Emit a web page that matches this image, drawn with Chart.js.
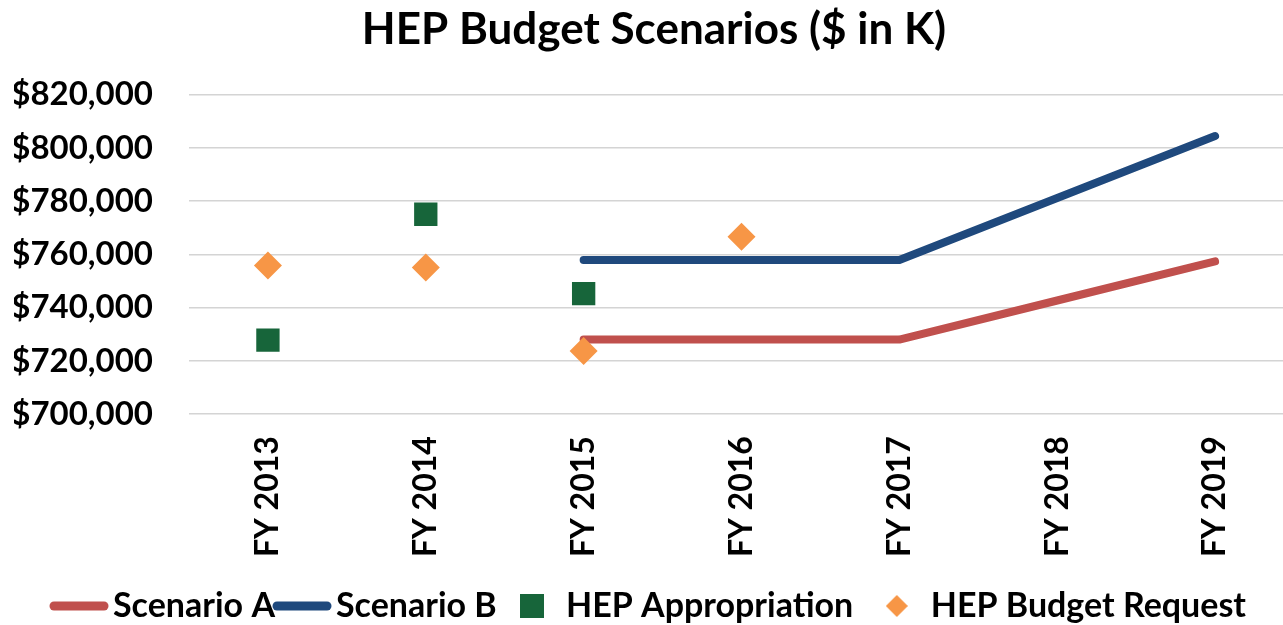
<!DOCTYPE html>
<html>
<head>
<meta charset="utf-8">
<script src="https://cdn.jsdelivr.net/npm/chart.js@4.4.1/dist/chart.umd.min.js"></script>
<style>
  html, body { margin: 0; padding: 0; background: #fff; overflow: hidden; }
  #wrap { width: 1283px; height: 625px; overflow: hidden; }
</style>
</head>
<body>
<div id="wrap"><canvas id="budgetChart" width="1318" height="633"></canvas></div>
<script>
const categories = ['FY 2013', 'FY 2014', 'FY 2015', 'FY 2016', 'FY 2017', 'FY 2018', 'FY 2019'];

const scenarioA = [null, null, 728000, 728000, 728000, 742700, 757400];
const scenarioB = [null, null, 757900, 757900, 757900, 781200, 804500];
const appropriation = [727800, 775100, 745300, null, null, null, null];
const budgetRequest = [755900, 755100, 723700, 766700, null, null, null];

const yTicks = [700000, 720000, 740000, 760000, 780000, 800000, 820000];

const RED = '#C0504D';
const BLUE = '#1F497D';
const GREEN = '#17653A';
const ORANGE = '#F79646';
const FONT = 'Lato';

// little canvases used as legend markers
function makeIcon(kind, color) {
    let c = document.createElement('canvas');
    let ctx = c.getContext('2d');
    if (kind === 'line') {
        c.width = 64; c.height = 14;
        ctx.strokeStyle = color;
        ctx.lineWidth = 9;
        ctx.lineCap = 'round';
        ctx.beginPath();
        ctx.moveTo(7, 7);
        ctx.lineTo(57, 7);
        ctx.stroke();
    } else if (kind === 'square') {
        c.width = 24; c.height = 24;
        ctx.fillStyle = color;
        ctx.fillRect(0, 0, 24, 24);
    } else {
        c.width = 22; c.height = 22;
        ctx.fillStyle = color;
        ctx.beginPath();
        ctx.moveTo(11, 0);
        ctx.lineTo(22, 11);
        ctx.lineTo(11, 22);
        ctx.lineTo(0, 11);
        ctx.closePath();
        ctx.fill();
    }
    return c;
}

const legendIcons = [
    makeIcon('line', RED),
    makeIcon('line', BLUE),
    makeIcon('square', GREEN),
    makeIcon('diamond', ORANGE)
];
// extra spacing after each legend entry
const legendGaps = [0, 1, 2, 0];

const data = {
    labels: categories,
    datasets: [{
        label: 'Scenario A',
        data: scenarioA,
        borderColor: RED,
        backgroundColor: RED,
        borderWidth: 8,
        borderCapStyle: 'round',
        borderJoinStyle: 'round',
        pointRadius: 0,
        tension: 0,
        order: 2
    }, {
        label: 'Scenario B',
        data: scenarioB,
        borderColor: BLUE,
        backgroundColor: BLUE,
        borderWidth: 8,
        borderCapStyle: 'round',
        borderJoinStyle: 'round',
        pointRadius: 0,
        tension: 0,
        order: 2
    }, {
        label: 'HEP Appropriation',
        data: appropriation,
        showLine: false,
        pointStyle: 'rect',
        pointRadius: 16.5,
        pointBackgroundColor: GREEN,
        pointBorderColor: GREEN,
        pointBorderWidth: 0,
        order: 1
    }, {
        label: 'HEP Budget Request',
        data: budgetRequest,
        showLine: false,
        pointStyle: 'rectRot',
        pointRadius: 14,
        pointBackgroundColor: ORANGE,
        pointBorderColor: ORANGE,
        pointBorderWidth: 0,
        order: 1
    }]
};

const config = {
    type: 'line',
    data: data,
    options: {
        responsive: false,
        animation: false,
        devicePixelRatio: 1,
        layout: {
            padding: { left: 14, right: 24, top: 0, bottom: 0 }
        },
        plugins: {
            title: {
                display: true,
                text: 'HEP Budget Scenarios ($ in K)',
                color: '#000',
                font: { family: FONT, size: 44, weight: 'bold' },
                padding: { top: 3, bottom: 39 }
            },
            legend: {
                position: 'bottom',
                labels: {
                    color: '#000',
                    font: { family: FONT, size: 34, weight: 'bold' },
                    usePointStyle: true,
                    pointStyleWidth: 34,
                    padding: 10,
                    generateLabels: function(chart) {
                        return chart.data.datasets.map(function(ds, i) {
                            return {
                                text: ds.label + ' '.repeat(legendGaps[i]),
                                fillStyle: 'transparent',
                                strokeStyle: 'transparent',
                                lineWidth: 0,
                                pointStyle: legendIcons[i],
                                hidden: false,
                                datasetIndex: i
                            };
                        });
                    }
                }
            },
            tooltip: { enabled: false }
        },
        scales: {
            x: {
                offset: true,
                grid: { display: false, drawTicks: false },
                border: { display: false },
                ticks: {
                    color: '#000',
                    font: { family: FONT, size: 32, weight: 'bold' },
                    minRotation: 90,
                    maxRotation: 90,
                    autoSkip: false,
                    padding: 22
                }
            },
            y: {
                min: 700000,
                max: 820000,
                afterBuildTicks: function(axis) {
                    axis.ticks = yTicks.map(v => ({ value: v }));
                },
                afterFit: function(axis) {
                    axis.width = 175;
                },
                grid: { color: '#d4d4d4', lineWidth: 1.5, drawTicks: false },
                border: { display: false },
                ticks: {
                    color: '#000',
                    font: { family: FONT, size: 33, weight: 'bold' },
                    padding: 36,
                    callback: function(v) {
                        return '$' + Number(v).toLocaleString('en-US');
                    }
                }
            }
        }
    }
};

const budgetChart = new Chart(document.getElementById('budgetChart'), config);
</script>
</body>
</html>
